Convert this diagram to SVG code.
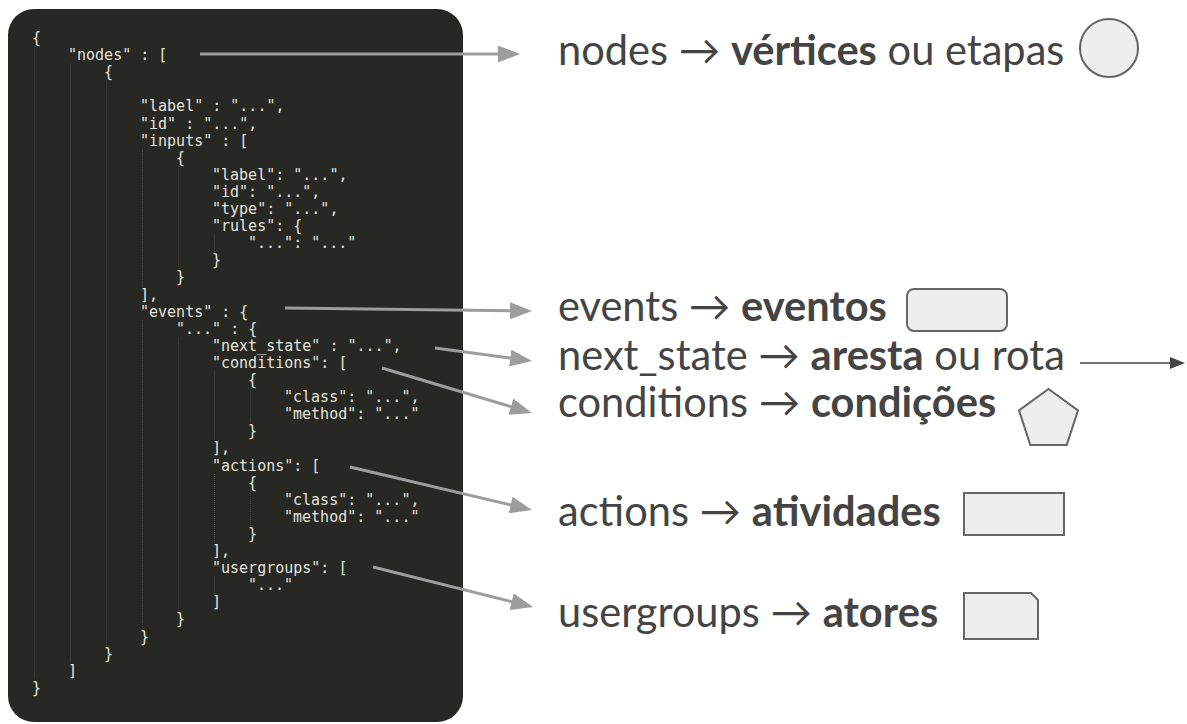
<svg xmlns="http://www.w3.org/2000/svg" width="1187" height="724" viewBox="0 0 1187 724">
  <style>
    .code { font-family: "DejaVu Sans Mono", "Liberation Mono", monospace; font-size: 15px; fill: #e4e4de; }
    .guide { stroke: #4a4a43; stroke-width: 1; stroke-dasharray: 1 1; fill: none; }
    .term { font-family: Lato, "Noto Sans", "Liberation Sans", sans-serif; font-size: 41.6px; fill: #444444; }
    .term .b { font-weight: 700; }
    .link { stroke: #9d9d9d; stroke-width: 3; fill: none; marker-end: url(#head); }
    .shape { fill: #eeeeee; stroke: #666666; stroke-width: 2; }
  </style>
  <defs>
    <marker id="head" viewBox="0 0 22 17" refX="12" refY="8.5" markerWidth="22" markerHeight="17" markerUnits="userSpaceOnUse" orient="auto">
      <path d="M0,0 L22,8.5 L0,17 Z" fill="#9d9d9d"/>
    </marker>
  </defs>

  <rect width="1187" height="724" fill="#ffffff"/>

  <!-- JSON structure panel -->
  <g id="json-panel">
    <rect x="8" y="9" width="455" height="713" rx="26" fill="#272724"/>
    <g id="indent-guides">
      <line class="guide" x1="34.5" y1="46.5" x2="34.5" y2="679"/>
      <line class="guide" x1="70.5" y1="63.6" x2="70.5" y2="662"/>
      <line class="guide" x1="106.5" y1="80.7" x2="106.5" y2="645"/>
      <line class="guide" x1="142.5" y1="149.1" x2="142.5" y2="286"/>
      <line class="guide" x1="142.5" y1="320.1" x2="142.5" y2="628"/>
      <line class="guide" x1="178.5" y1="166.2" x2="178.5" y2="268.8"/>
      <line class="guide" x1="178.5" y1="337.2" x2="178.5" y2="610.8"/>
      <line class="guide" x1="214.5" y1="234.6" x2="214.5" y2="251.7"/>
      <line class="guide" x1="214.5" y1="371.4" x2="214.5" y2="439.8"/>
      <line class="guide" x1="214.5" y1="474" x2="214.5" y2="542.4"/>
      <line class="guide" x1="214.5" y1="576.6" x2="214.5" y2="593.7"/>
      <line class="guide" x1="250.5" y1="388.5" x2="250.5" y2="422.7"/>
      <line class="guide" x1="250.5" y1="491.1" x2="250.5" y2="525.3"/>
    </g>
    <text class="code" xml:space="preserve">
      <tspan x="32" y="43">{</tspan>
      <tspan x="68" y="60.1">"nodes" : [</tspan>
      <tspan x="104" y="77.2">{</tspan>
      <tspan x="140" y="111.4">"label" : "...",</tspan>
      <tspan x="140" y="128.5">"id" : "...",</tspan>
      <tspan x="140" y="145.6">"inputs" : [</tspan>
      <tspan x="176" y="162.7">{</tspan>
      <tspan x="212" y="179.8">"label": "...",</tspan>
      <tspan x="212" y="196.9">"id": "...",</tspan>
      <tspan x="212" y="214">"type": "...",</tspan>
      <tspan x="212" y="231.1">"rules": {</tspan>
      <tspan x="248" y="248.2">"...": "..."</tspan>
      <tspan x="212" y="265.3">}</tspan>
      <tspan x="176" y="282.4">}</tspan>
      <tspan x="140" y="299.5">],</tspan>
      <tspan x="140" y="316.6">"events" : {</tspan>
      <tspan x="176" y="333.7">"..." : {</tspan>
      <tspan x="212" y="350.8">"next_state" : "...",</tspan>
      <tspan x="212" y="367.9">"conditions": [</tspan>
      <tspan x="248" y="385">{</tspan>
      <tspan x="284" y="402.1">"class": "...",</tspan>
      <tspan x="284" y="419.2">"method": "..."</tspan>
      <tspan x="248" y="436.3">}</tspan>
      <tspan x="212" y="453.4">],</tspan>
      <tspan x="212" y="470.5">"actions": [</tspan>
      <tspan x="248" y="487.6">{</tspan>
      <tspan x="284" y="504.7">"class": "...",</tspan>
      <tspan x="284" y="521.8">"method": "..."</tspan>
      <tspan x="248" y="538.9">}</tspan>
      <tspan x="212" y="556">],</tspan>
      <tspan x="212" y="573.1">"usergroups": [</tspan>
      <tspan x="248" y="590.2">"..."</tspan>
      <tspan x="212" y="607.3">]</tspan>
      <tspan x="176" y="624.4">}</tspan>
      <tspan x="140" y="641.5">}</tspan>
      <tspan x="104" y="658.6">}</tspan>
      <tspan x="68" y="675.7">]</tspan>
      <tspan x="32" y="692.8">}</tspan>
    </text>
  </g>

  <!-- pointers from JSON keys to their meaning -->
  <g id="connectors">
    <line class="link" x1="200" y1="54" x2="510" y2="54"/>
    <line class="link" x1="285" y1="308" x2="522" y2="310.9"/>
    <line class="link" x1="435" y1="348" x2="522.1" y2="359.7"/>
    <line class="link" x1="382" y1="368" x2="522.4" y2="410.1"/>
    <line class="link" x1="350" y1="467" x2="522.3" y2="507.7"/>
    <line class="link" x1="373" y1="567" x2="523.3" y2="604.6"/>
  </g>

  <g id="term-nodes">
    <text class="term" x="558" y="65">nodes → <tspan class="b">vértices</tspan> ou etapas</text>
    <circle class="shape" cx="1109" cy="48" r="29"/>
  </g>

  <g id="term-events">
    <text class="term" x="558" y="321">events → <tspan class="b">eventos</tspan></text>
    <rect class="shape" x="907" y="289" width="100" height="42" rx="7"/>
  </g>

  <g id="term-next-state">
    <text class="term" x="558" y="370">next_state → <tspan class="b">aresta</tspan> ou rota</text>
    <line x1="1080" y1="363" x2="1172" y2="363" stroke="#444444" stroke-width="1.5"/>
    <path d="M1170,357 L1185,363 L1170,369 Z" fill="#444444"/>
  </g>

  <g id="term-conditions">
    <text class="term" x="558" y="417">conditions → <tspan class="b">condições</tspan></text>
    <polygon class="shape" points="1048.5,389 1078,410.4 1066.7,445 1030.3,445 1019,410.4"/>
  </g>

  <g id="term-actions">
    <text class="term" x="558" y="526">actions → <tspan class="b">atividades</tspan></text>
    <rect class="shape" x="964" y="493" width="100" height="42"/>
  </g>

  <g id="term-usergroups">
    <text class="term" x="558" y="627">usergroups → <tspan class="b">atores</tspan></text>
    <path class="shape" d="M964,593 L1031,593 L1038,600 L1038,639 L964,639 Z"/>
  </g>
</svg>
